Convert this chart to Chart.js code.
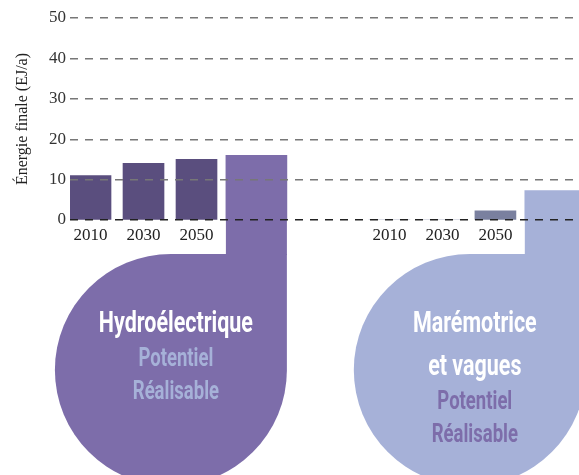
<!DOCTYPE html>
<html lang="fr">
<head>
<meta charset="utf-8">
<script src="https://cdn.jsdelivr.net/npm/chart.js@4"></script>
<style>
  html, body { margin: 0; padding: 0; background: #fff; }
  #wrap { width: 579px; height: 475px; position: relative; }
</style>
</head>
<body>
<div id="wrap"><canvas id="ch"></canvas></div>
<script>
// ── data ─────────────────────────────────────────────────────────────────────
const years          = ['2010', '2030', '2050'];
const hydroValues    = [11, 14, 15];
const hydroPotential = 16;
const marineValues   = [0, 0, 2.3];
const marinePotential = 7.3;
const yTicks         = [0, 10, 20, 30, 40, 50];

const hydroTitle  = ['Hydroélectrique'];
const marineTitle = ['Marémotrice', 'et vagues'];
const subLines    = ['Potentiel', 'Réalisable'];
const yTitle      = 'Énergie finale (EJ/a)';

// ── layout (in bar slots along the x axis) ───────────────────────────────────
const GROUP_START  = [0, 5.64];
const POTENTIAL_AT = 3.13;

// colours
const HYDRO_BAR   = '#5a4e7e';
const HYDRO_POT   = '#7d6daa';
const MARINE_BAR  = '#7a809f';
const MARINE_POT  = '#a6b1d8';
const SERIF = "'Liberation Serif', 'DejaVu Serif', serif";
const SANS  = "Roboto, 'Noto Sans', sans-serif";
const SQUEEZE = 0.74;   // the labels use a condensed face, fake it

const yearPts = (g, vals) => vals.map((v, i) => ({ x: GROUP_START[g] + i, y: v }));
const tickPos = [...years.map((_, i) => GROUP_START[0] + i), ...years.map((_, i) => GROUP_START[1] + i)];
const tickLbl = [...years, ...years];

function narrowText(ctx, text, x, y) {
  ctx.save();
  ctx.translate(x, y);
  ctx.scale(SQUEEZE, 1);
  ctx.fillText(text, 0, 0);
  ctx.restore();
}

// blob under each potential bar, with its labels
const blobPlugin = {
  id: 'blobs',
  afterDatasetsDraw(chart) {
    const ctx = chart.ctx;
    const zeroY = chart.scales.y.getPixelForValue(0);
    const blobs = [
      { ds: 1, fill: HYDRO_POT, title: hydroTitle, subColor: MARINE_POT },
      { ds: 3, fill: MARINE_POT, title: marineTitle, subColor: HYDRO_POT },
    ];
    blobs.forEach(b => {
      const bar = chart.getDatasetMeta(b.ds).data[0];
      if (!bar) return;
      const w = bar.width;
      const right = bar.x + w / 2;
      const R = 116;
      const top = zeroY + 34;
      const cx = right - R, cy = top + R;
      ctx.save();
      ctx.fillStyle = b.fill;
      ctx.fillRect(bar.x - w / 2, zeroY - 1, w, top - zeroY + 2);
      ctx.beginPath();
      ctx.moveTo(cx, top);
      ctx.lineTo(right, top);
      ctx.lineTo(right, cy);
      ctx.arc(cx, cy, R, 0, 1.5 * Math.PI);
      ctx.closePath();
      ctx.fill();

      ctx.textAlign = 'center';
      ctx.textBaseline = 'middle';
      let y = top + 71;
      ctx.fillStyle = '#ffffff';
      ctx.font = 'bold 29px ' + SANS;
      b.title.forEach(t => { narrowText(ctx, t, cx + 5, y); y += 43; });
      y -= 8;
      ctx.fillStyle = b.subColor;
      ctx.font = 'bold 25px ' + SANS;
      subLines.forEach(t => { narrowText(ctx, t, cx + 5, y); y += 33; });
      ctx.restore();
    });
  }
};

new Chart(document.getElementById('ch').getContext('2d'), {
  type: 'bar',
  data: {
    datasets: [
      { data: yearPts(0, hydroValues), backgroundColor: HYDRO_BAR, barThickness: 41 },
      { data: [{ x: GROUP_START[0] + POTENTIAL_AT, y: hydroPotential }], backgroundColor: HYDRO_POT, barThickness: 61 },
      { data: yearPts(1, marineValues), backgroundColor: MARINE_BAR, barThickness: 41 },
      { data: [{ x: GROUP_START[1] + POTENTIAL_AT, y: marinePotential }], backgroundColor: MARINE_POT, barThickness: 61 },
    ]
  },
  options: {
    responsive: true,
    maintainAspectRatio: false,
    animation: false,
    grouped: false,
    borderWidth: 0,
    layout: { padding: { top: 18, left: 0, right: 0, bottom: 0 } },
    plugins: { legend: { display: false }, tooltip: { enabled: false } },
    scales: {
      x: {
        type: 'linear',
        offset: false,
        min: -0.387,
        max: 9.217,
        grid: { display: false },
        border: { display: false },
        afterBuildTicks: s => { s.ticks = tickPos.map(v => ({ value: v })); },
        afterFit: s => { s.height = 255; },
        ticks: {
          autoSkip: false, maxRotation: 0, padding: -3,
          color: '#222', font: { family: SERIF, size: 17 },
          callback: (v, i) => tickLbl[i],
        },
      },
      y: {
        min: 0,
        max: 50,
        afterBuildTicks: s => { s.ticks = yTicks.map(v => ({ value: v })); },
        afterFit: s => { s.width = 70; },
        grid: {
          z: 1, drawTicks: false, lineWidth: 1.4,
          color: c => c.tick && c.tick.value === 0 ? '#222' : '#777',
        },
        border: { display: false, dash: [8, 7] },
        ticks: { padding: 4, color: '#333', font: { family: SERIF, size: 17 } },
        title: {
          display: true, text: yTitle, color: '#222',
          font: { family: SERIF, size: 16 }, padding: { top: 13, bottom: 0 },
        },
      },
    },
  },
  plugins: [blobPlugin],
});
</script>
</body>
</html>
